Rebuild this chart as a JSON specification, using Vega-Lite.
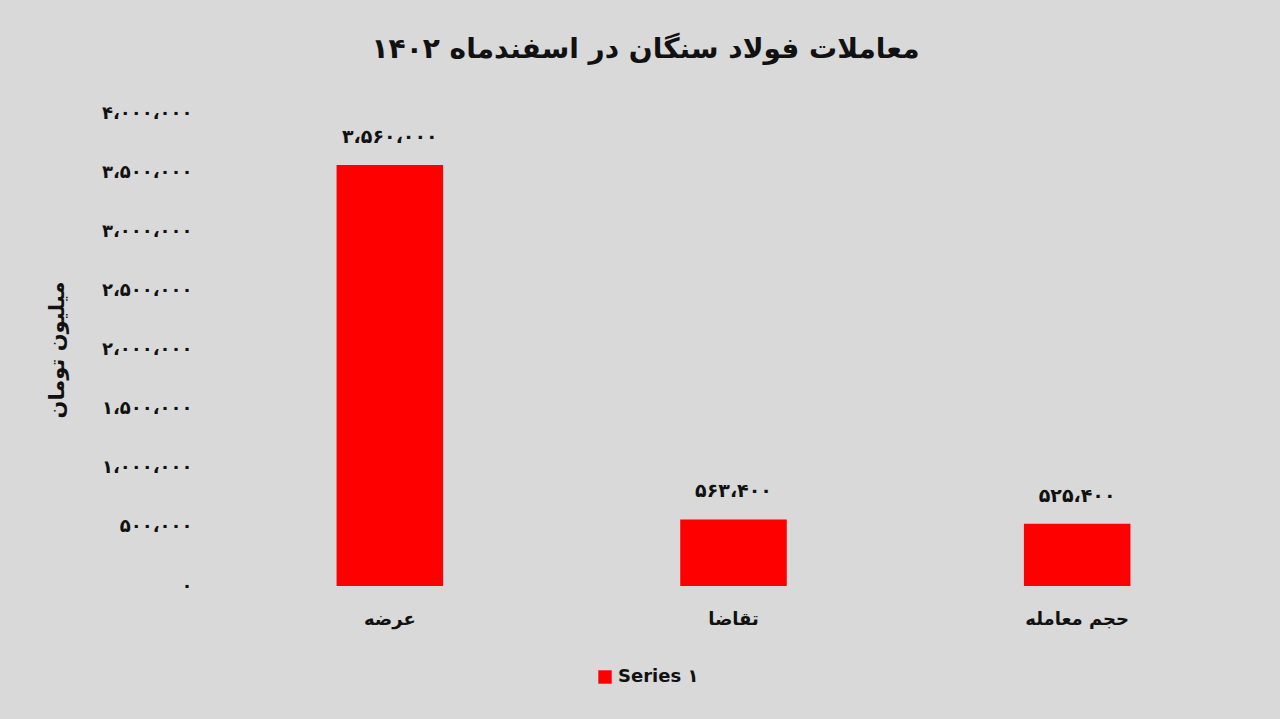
{
  "$schema": "https://vega.github.io/schema/vega-lite/v6.json",
  "width": 1031,
  "height": 473,
  "autosize": {"type": "none"},
  "padding": {"left": 218, "top": 113, "right": 31, "bottom": 133},
  "background": "#d9d9d9",
  "config": {
    "view": {"stroke": null},
    "font": "DejaVu Sans"
  },
  "title": {
    "text": "معاملات فولاد سنگان در اسفندماه ۱۴۰۲",
    "fontSize": 28,
    "fontWeight": "bold",
    "color": "#111111",
    "anchor": "middle",
    "dx": -88,
    "offset": 40,
    "font": "DejaVu Sans"
  },
  "data": {
    "values": [
      {"category": "عرضه", "value": 3560000, "label": "۳،۵۶۰،۰۰۰", "series": "Series ۱"},
      {"category": "تقاضا", "value": 563400, "label": "۵۶۳،۴۰۰", "series": "Series ۱"},
      {"category": "حجم معامله", "value": 525400, "label": "۵۲۵،۴۰۰", "series": "Series ۱"}
    ]
  },
  "encoding": {
    "x": {
      "field": "category",
      "type": "nominal",
      "sort": null,
      "scale": {"paddingInner": 0.69, "paddingOuter": 0.345},
      "axis": {
        "title": null,
        "labelAngle": 0,
        "ticks": false,
        "domain": false,
        "labelPadding": 24,
        "labelFontSize": 18,
        "labelFontWeight": "bold",
        "labelColor": "#111111"
      }
    },
    "y": {
      "field": "value",
      "type": "quantitative",
      "scale": {"domain": [0, 4000000]},
      "axis": {
        "title": "میلیون تومان",
        "titleFontSize": 21,
        "titleFontWeight": "bold",
        "titleColor": "#111111",
        "titlePadding": 34,
        "values": [0, 500000, 1000000, 1500000, 2000000, 2500000, 3000000, 3500000, 4000000],
        "grid": false,
        "ticks": false,
        "domain": false,
        "labelPadding": 26,
        "labelFontSize": 18,
        "labelFontWeight": "bold",
        "labelColor": "#111111",
        "labelExpr": "replace(replace(replace(replace(replace(replace(replace(replace(replace(replace(replace(format(datum.value, ','), regexp('0','g'), '۰'), regexp('1','g'), '۱'), regexp('2','g'), '۲'), regexp('3','g'), '۳'), regexp('4','g'), '۴'), regexp('5','g'), '۵'), regexp('6','g'), '۶'), regexp('7','g'), '۷'), regexp('8','g'), '۸'), regexp('9','g'), '۹'), regexp(',','g'), '،')"
      }
    }
  },
  "layer": [
    {
      "mark": {"type": "bar"},
      "encoding": {
        "color": {
          "field": "series",
          "type": "nominal",
          "scale": {"range": ["#ff0000"]},
          "legend": {
            "title": null,
            "orient": "none",
            "legendX": 378,
            "legendY": 555,
            "symbolType": "square",
            "symbolSize": 180,
            "labelFontSize": 18,
            "labelFontWeight": "bold",
            "labelColor": "#111111",
            "labelFont": "DejaVu Sans"
          }
        }
      }
    },
    {
      "mark": {
        "type": "text",
        "baseline": "bottom",
        "dy": -18,
        "fontSize": 19,
        "fontWeight": "bold",
        "color": "#111111"
      },
      "encoding": {
        "text": {"field": "label"}
      }
    }
  ]
}
